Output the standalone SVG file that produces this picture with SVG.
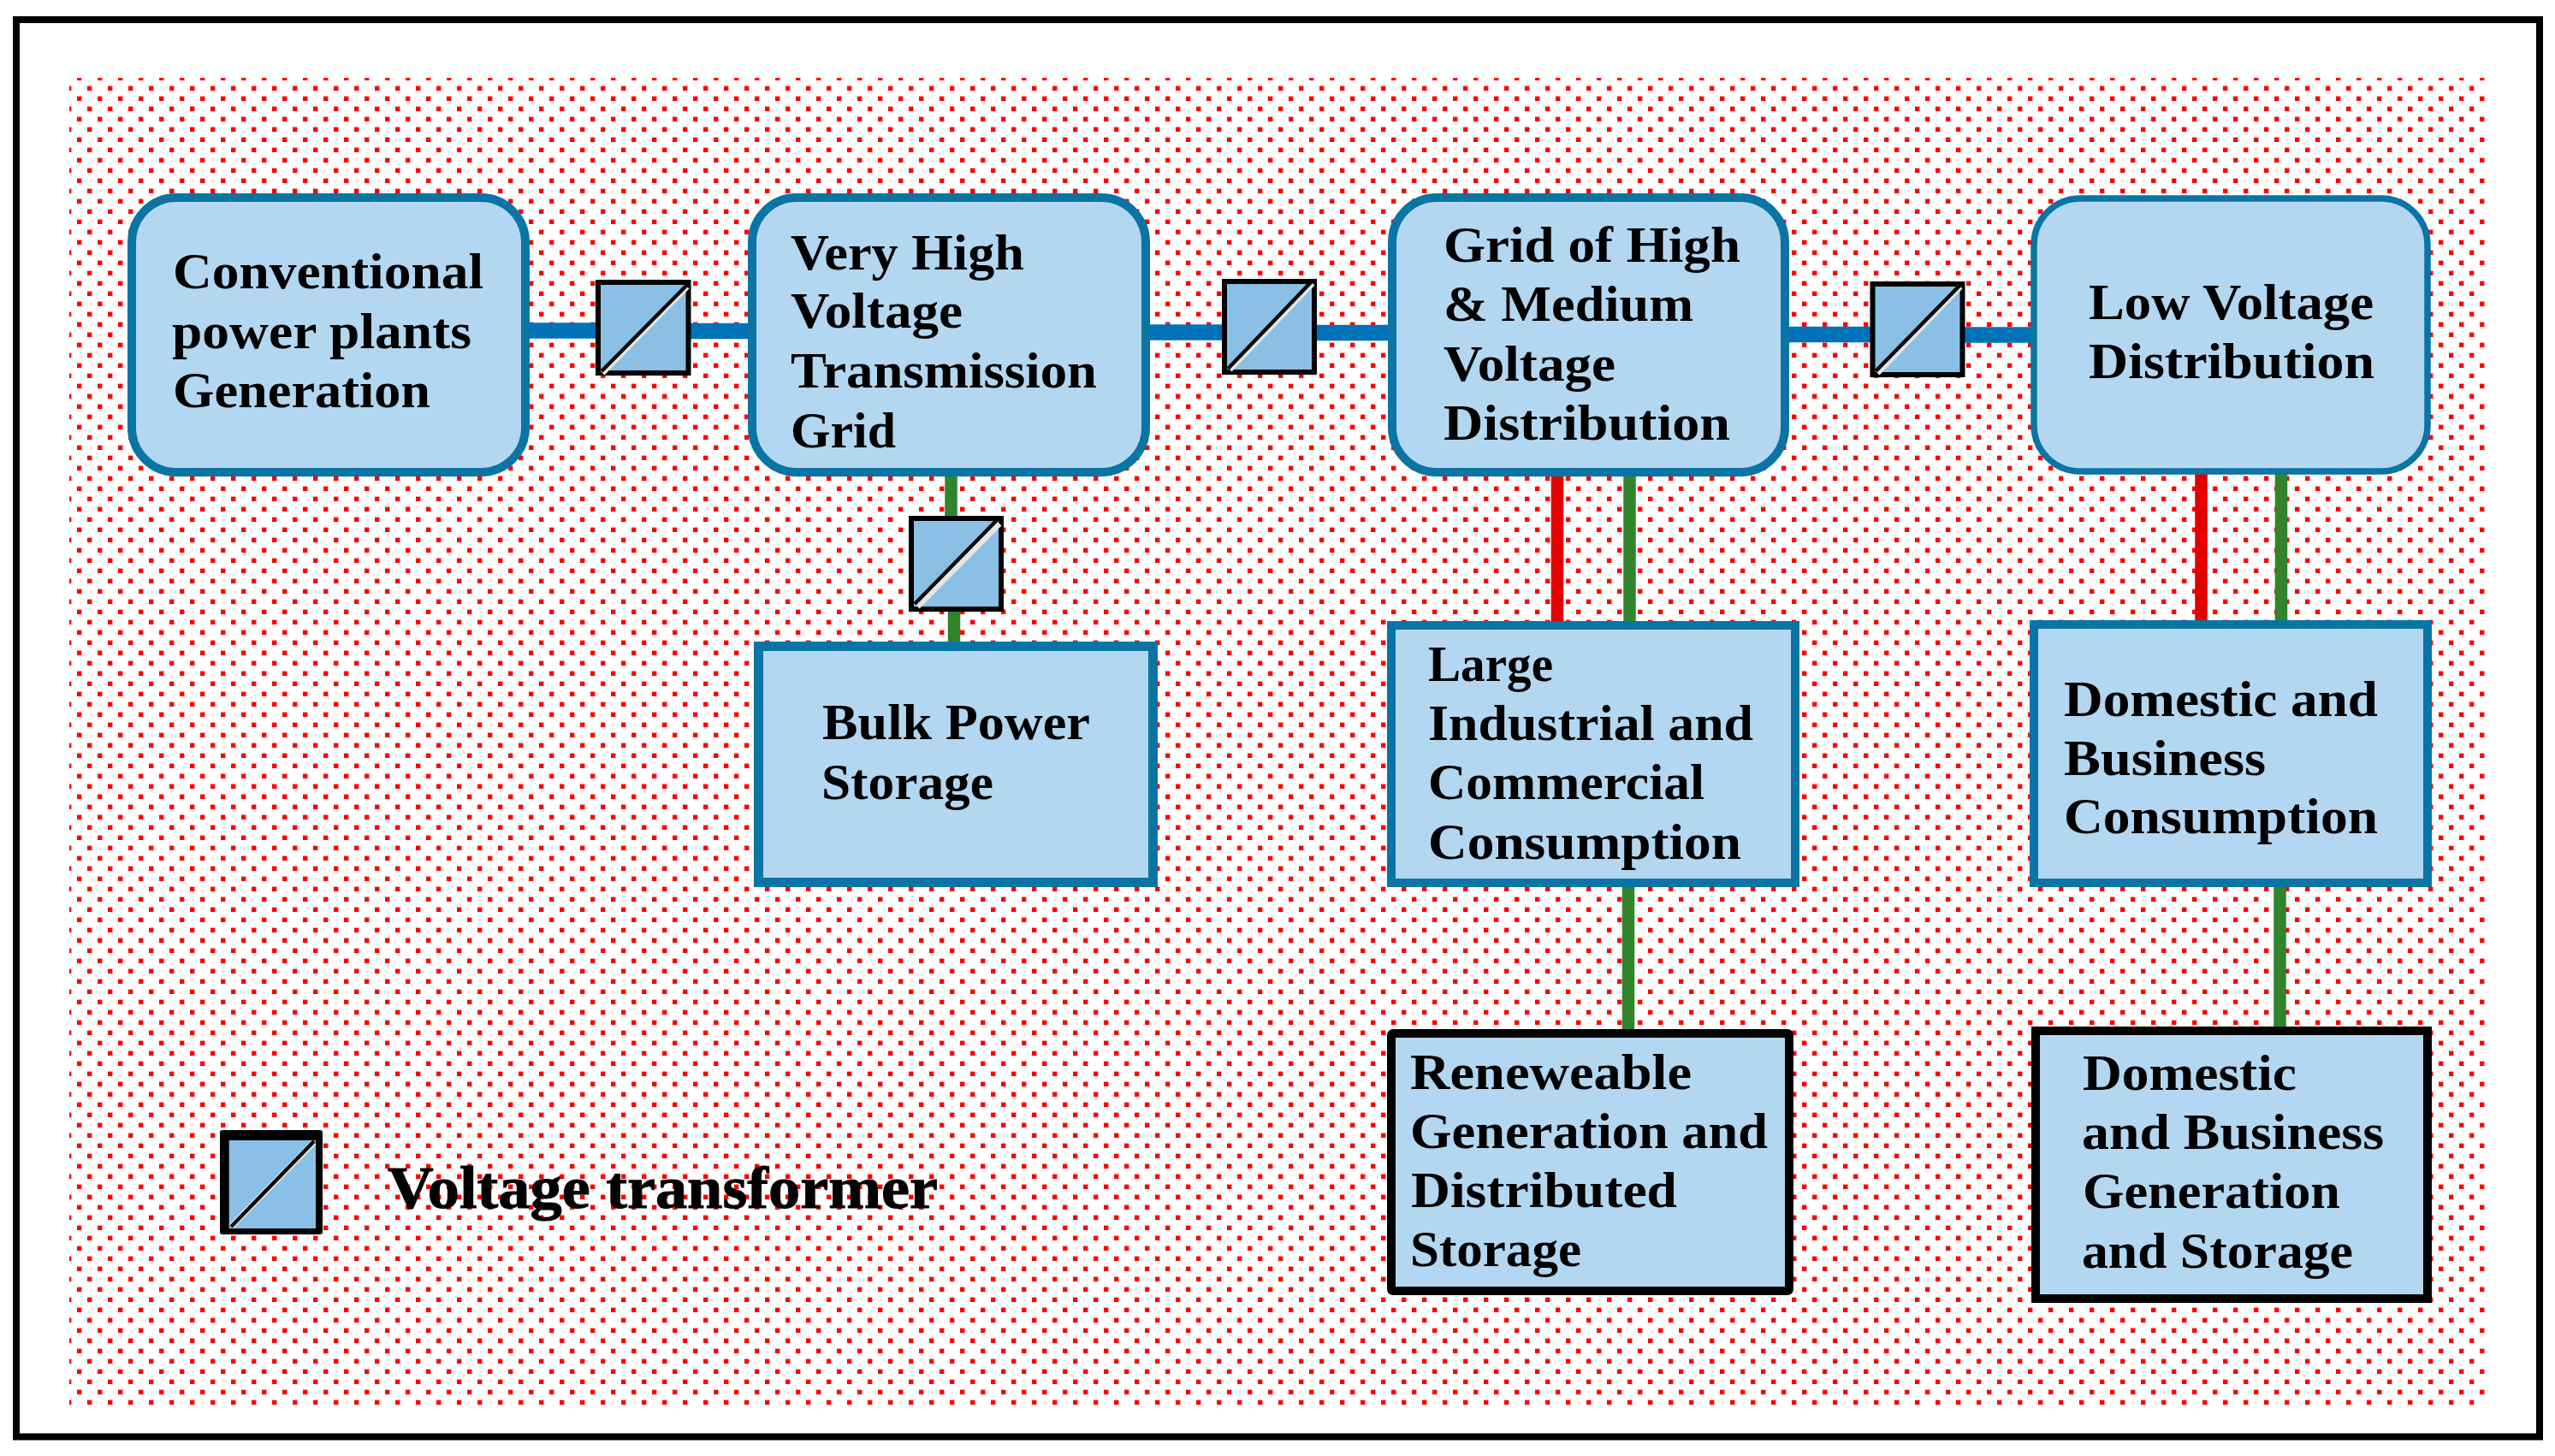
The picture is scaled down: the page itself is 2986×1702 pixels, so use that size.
<svg xmlns="http://www.w3.org/2000/svg" width="2986" height="1702" viewBox="0 0 2986 1702">
<defs>
<pattern id="dots" patternUnits="userSpaceOnUse" x="0" y="0" width="24" height="24">
<rect x="18" y="16.6" width="5.4" height="5.4" fill="#ff0000"/>
<rect x="6" y="4.6" width="5.4" height="5.4" fill="#ff0000"/>
</pattern>
</defs>
<style>
.node{fill:#b3d7f0;stroke:#0a74a4;stroke-width:10}
.blk{stroke:#000}
.t{font-family:"Liberation Serif","Times New Roman",serif;font-weight:700;font-size:60px;fill:#000}
.blue{stroke:#0072b8;stroke-width:18.5;fill:none}
.green{stroke:#31842b;stroke-width:14.5;fill:none}
.red{stroke:#e30000;stroke-width:14.5;fill:none}
.tf{fill:#8ac0e6;stroke:#000;stroke-width:6}
.dw{stroke:#e6e6e6;stroke-width:7;fill:none}
.db{stroke:#0a0a0a;stroke-width:4.5;fill:none}
</style>
<rect width="2986" height="1702" fill="#fff"/>
<rect id="frame" x="19" y="23" width="2949" height="1656.5" fill="#fff" stroke="#000" stroke-width="8"/>
<rect id="background" x="81" y="91" width="2826" height="1554" fill="url(#dots)"/>
<g id="connectors">
<line class="blue" x1="615" y1="386.5" x2="700" y2="386.5"/>
<line class="blue" x1="803" y1="387" x2="878" y2="387"/>
<line class="blue" x1="1340" y1="388.5" x2="1432" y2="388.5"/>
<line class="blue" x1="1535" y1="389" x2="1626" y2="389"/>
<line class="blue" x1="2087" y1="391" x2="2190" y2="391"/>
<line class="blue" x1="2292" y1="391.5" x2="2377" y2="391.5"/>
<line class="green" x1="1111.5" y1="555" x2="1111.5" y2="606"/>
<line class="green" x1="1115" y1="712" x2="1115" y2="752"/>
<line class="red" x1="1820" y1="555" x2="1820" y2="728"/>
<line class="green" x1="1904.5" y1="555" x2="1904.5" y2="728"/>
<line class="green" x1="1903" y1="1035" x2="1903" y2="1205"/>
<line class="red" x1="2572.5" y1="553" x2="2572.5" y2="727"/>
<line class="green" x1="2666" y1="553" x2="2666" y2="727"/>
<line class="green" x1="2664.5" y1="1035" x2="2664.5" y2="1202"/>
</g>
<g id="node-conventional">
<rect class="node" x="154" y="231" width="460" height="321" rx="52"/>
<text class="t" x="202" y="337" textLength="363" lengthAdjust="spacingAndGlyphs">Conventional</text>
<text class="t" x="201" y="406.500" textLength="350" lengthAdjust="spacingAndGlyphs">power plants</text>
<text class="t" x="202" y="476" textLength="301" lengthAdjust="spacingAndGlyphs">Generation</text>
</g>
<g id="node-transmission">
<rect class="node" x="879" y="231" width="460" height="321" rx="52"/>
<text class="t" x="924" y="315" textLength="273" lengthAdjust="spacingAndGlyphs">Very High</text>
<text class="t" x="924" y="383" textLength="201" lengthAdjust="spacingAndGlyphs">Voltage</text>
<text class="t" x="924" y="453" textLength="358" lengthAdjust="spacingAndGlyphs">Transmission</text>
<text class="t" x="924" y="522.500" textLength="123" lengthAdjust="spacingAndGlyphs">Grid</text>
</g>
<g id="node-distribution">
<rect class="node" x="1627" y="231" width="459" height="321" rx="52"/>
<text class="t" x="1687" y="306" textLength="347" lengthAdjust="spacingAndGlyphs">Grid of High</text>
<text class="t" x="1687" y="375" textLength="292" lengthAdjust="spacingAndGlyphs">&amp; Medium</text>
<text class="t" x="1687" y="444.500" textLength="201" lengthAdjust="spacingAndGlyphs">Voltage</text>
<text class="t" x="1687" y="514" textLength="335" lengthAdjust="spacingAndGlyphs">Distribution</text>
</g>
<g id="node-low-voltage">
<rect class="node" style="stroke-width:7.5" x="2377" y="232" width="460" height="319" rx="54"/>
<text class="t" x="2441" y="373" textLength="333" lengthAdjust="spacingAndGlyphs">Low Voltage</text>
<text class="t" x="2441" y="441.500" textLength="334" lengthAdjust="spacingAndGlyphs">Distribution</text>
</g>
<g id="node-bulk-storage">
<rect class="node" style="stroke-width:11" x="886.5" y="755.5" width="461" height="276"/>
<text class="t" x="961" y="864" textLength="313" lengthAdjust="spacingAndGlyphs">Bulk Power</text>
<text class="t" x="960" y="934" textLength="201" lengthAdjust="spacingAndGlyphs">Storage</text>
</g>
<g id="node-large-consumption">
<rect class="node" x="1626" y="731" width="472" height="301"/>
<text class="t" x="1669" y="796" textLength="146" lengthAdjust="spacingAndGlyphs">Large</text>
<text class="t" x="1669" y="865" textLength="380" lengthAdjust="spacingAndGlyphs">Industrial and</text>
<text class="t" x="1669" y="934" textLength="323" lengthAdjust="spacingAndGlyphs">Commercial</text>
<text class="t" x="1669" y="1004" textLength="366" lengthAdjust="spacingAndGlyphs">Consumption</text>
</g>
<g id="node-domestic-consumption">
<rect class="node" x="2377" y="730" width="460" height="302"/>
<text class="t" x="2412" y="836.500" textLength="367" lengthAdjust="spacingAndGlyphs">Domestic and</text>
<text class="t" x="2412" y="905.500" textLength="236" lengthAdjust="spacingAndGlyphs">Business</text>
<text class="t" x="2412" y="973.500" textLength="367" lengthAdjust="spacingAndGlyphs">Consumption</text>
</g>
<g id="node-renewable">
<rect class="node blk" x="1626" y="1208" width="465" height="301" rx="2"/>
<text class="t" x="1648" y="1273" textLength="329" lengthAdjust="spacingAndGlyphs">Reneweable</text>
<text class="t" x="1648" y="1342" textLength="418" lengthAdjust="spacingAndGlyphs">Generation and</text>
<text class="t" x="1649" y="1411" textLength="311" lengthAdjust="spacingAndGlyphs">Distributed</text>
<text class="t" x="1648" y="1480" textLength="200" lengthAdjust="spacingAndGlyphs">Storage</text>
</g>
<g id="node-domestic-generation">
<rect class="node blk" x="2379" y="1205" width="458" height="313"/>
<text class="t" x="2434" y="1274" textLength="250" lengthAdjust="spacingAndGlyphs">Domestic</text>
<text class="t" x="2433" y="1343" textLength="353" lengthAdjust="spacingAndGlyphs">and Business</text>
<text class="t" x="2434" y="1412" textLength="301" lengthAdjust="spacingAndGlyphs">Generation</text>
<text class="t" x="2433" y="1482" textLength="317" lengthAdjust="spacingAndGlyphs">and Storage</text>
</g>
<g id="transformer-1">
<rect class="tf" x="699" y="330" width="105.500" height="106"/>
<path class="dw" d="M704 436L803 335"/><path class="db" d="M703 434L803 333"/>
</g>
<g id="transformer-2">
<rect class="tf" x="1431" y="329" width="105" height="106"/>
<path class="dw" d="M1437 432L1534 331"/><path class="db" d="M1435 431L1533 329"/>
</g>
<g id="transformer-3">
<rect class="tf" x="2188.500" y="332" width="105" height="106"/>
<path class="dw" d="M2194 436L2291 335"/><path class="db" d="M2192 434L2291 333"/>
</g>
<g id="transformer-4">
<rect class="tf" x="1065" y="606" width="105" height="106"/>
<path class="dw" d="M1072 709L1168 612"/><path class="db" d="M1069 706L1165 608"/>
</g>
<g id="legend">
<rect x="257" y="1321" width="120" height="122" rx="3" fill="#000"/>
<rect x="267.700" y="1333" width="101.300" height="103" fill="#8ac0e6"/>
<path class="dw" d="M270 1434L367 1335"/><path class="db" d="M270 1434L367 1334"/>
<text x="453" y="1412" textLength="643" lengthAdjust="spacingAndGlyphs" style="font-family:'Liberation Serif','Times New Roman',serif;font-weight:700;font-size:70px;fill:#000;stroke:#000;stroke-width:1">Voltage transformer</text>
</g>
</svg>
